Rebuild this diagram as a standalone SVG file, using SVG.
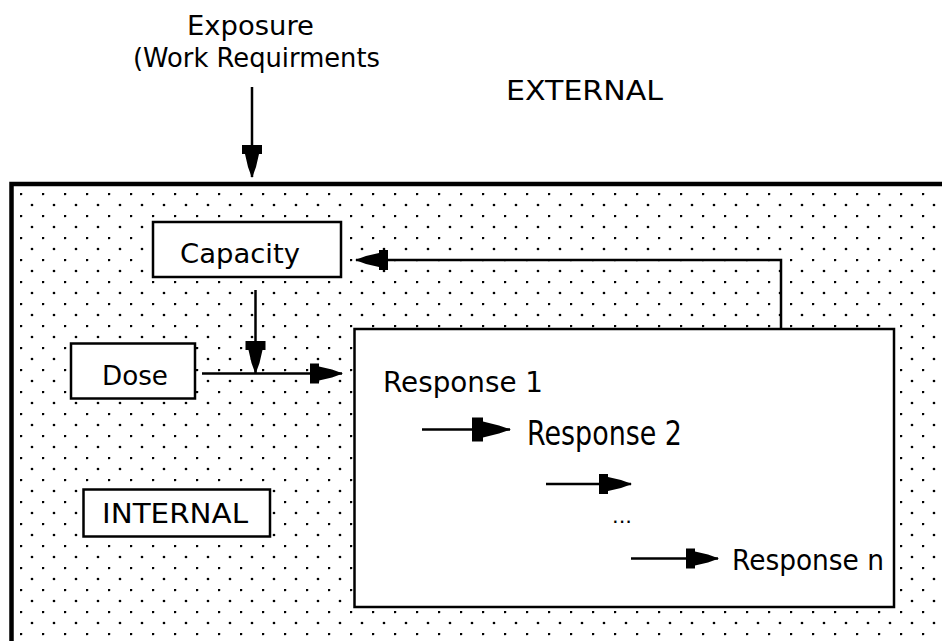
<svg xmlns="http://www.w3.org/2000/svg" width="942" height="641" viewBox="0 0 942 641">
  <style>
    .t { font-family: "DejaVu Sans", "Liberation Sans", sans-serif; fill: #000; }
    .box { fill: #fff; stroke: #000; stroke-width: 2.5; }
    .ln { fill: none; stroke: #000; stroke-width: 2.5; }
  </style>
  <defs>
    <pattern id="dots" patternUnits="userSpaceOnUse" x="20" y="193" width="22" height="22">
      <circle cx="1" cy="1" r="1.35" fill="#000"/>
      <circle cx="12" cy="12" r="1.35" fill="#000"/>
    </pattern>
    <marker id="ah" markerUnits="userSpaceOnUse" markerWidth="40" markerHeight="30" viewBox="-36 -15 40 30" refX="0" refY="0" orient="auto">
      <path d="M1,0 L-10,-4 L-23,-7 L-23,-10 L-32,-10 L-32,10 L-23,10 L-23,7 L-10,4 Z" fill="#000"/>
    </marker>
    <marker id="ahL" markerUnits="userSpaceOnUse" markerWidth="46" markerHeight="34" viewBox="-41 -17 46 34" refX="0" refY="0" orient="auto">
      <path d="M1,0 L-11,-4 L-27,-8 L-27,-12 L-38,-12 L-38,12 L-27,12 L-27,8 L-11,4 Z" fill="#000"/>
    </marker>
  </defs>

  <rect width="942" height="641" fill="#fff"/>

  <g id="internal-area">
    <rect x="11.5" y="184" width="1000" height="500" fill="url(#dots)" stroke="#000" stroke-width="4.5"/>
  </g>

  <g id="exposure">
    <text class="t" x="187" y="35" font-size="26" textLength="127" lengthAdjust="spacingAndGlyphs">Exposure</text>
    <text class="t" x="133" y="67" font-size="26" textLength="247" lengthAdjust="spacingAndGlyphs">(Work Requirments</text>
  </g>

  <g id="external">
    <text class="t" x="506" y="100" font-size="27" textLength="157" lengthAdjust="spacingAndGlyphs">EXTERNAL</text>
  </g>

  <g id="capacity">
    <rect class="box" x="153" y="222" width="188" height="55"/>
    <text class="t" x="180" y="263" font-size="26" textLength="120" lengthAdjust="spacingAndGlyphs">Capacity</text>
  </g>

  <g id="dose">
    <rect class="box" x="71" y="343.5" width="124" height="55"/>
    <text class="t" x="102" y="385" font-size="27" textLength="66" lengthAdjust="spacingAndGlyphs">Dose</text>
  </g>

  <g id="internal-label">
    <rect class="box" x="83.5" y="489.5" width="186.5" height="47"/>
    <text class="t" x="102" y="523" font-size="27" textLength="146" lengthAdjust="spacingAndGlyphs">INTERNAL</text>
  </g>

  <g id="responses">
    <rect class="box" x="354.5" y="329" width="539.5" height="278"/>
    <text class="t" x="383" y="392" font-size="29" textLength="160" lengthAdjust="spacingAndGlyphs">Response 1</text>
    <text class="t" x="527" y="445" font-size="33" textLength="155" lengthAdjust="spacingAndGlyphs">Response 2</text>
    <text class="t" x="612" y="523" font-size="20" textLength="20" lengthAdjust="spacingAndGlyphs">...</text>
    <text class="t" x="732" y="570" font-size="29" textLength="152" lengthAdjust="spacingAndGlyphs">Response n</text>
  </g>

  <g id="connectors">
    <line class="ln" x1="252" y1="87" x2="252" y2="177" marker-end="url(#ah)"/>
    <line class="ln" x1="255.5" y1="290" x2="255.5" y2="373" marker-end="url(#ah)"/>
    <line class="ln" x1="202" y1="373.5" x2="342" y2="373.5" marker-end="url(#ah)"/>
    <path class="ln" d="M781,329 V260 H356" marker-end="url(#ah)"/>
    <line class="ln" x1="422" y1="429.5" x2="510" y2="429.5" marker-end="url(#ahL)"/>
    <line class="ln" x1="546" y1="484" x2="631" y2="484" marker-end="url(#ah)"/>
    <line class="ln" x1="631" y1="558.5" x2="718" y2="558.5" marker-end="url(#ah)"/>
  </g>
</svg>
